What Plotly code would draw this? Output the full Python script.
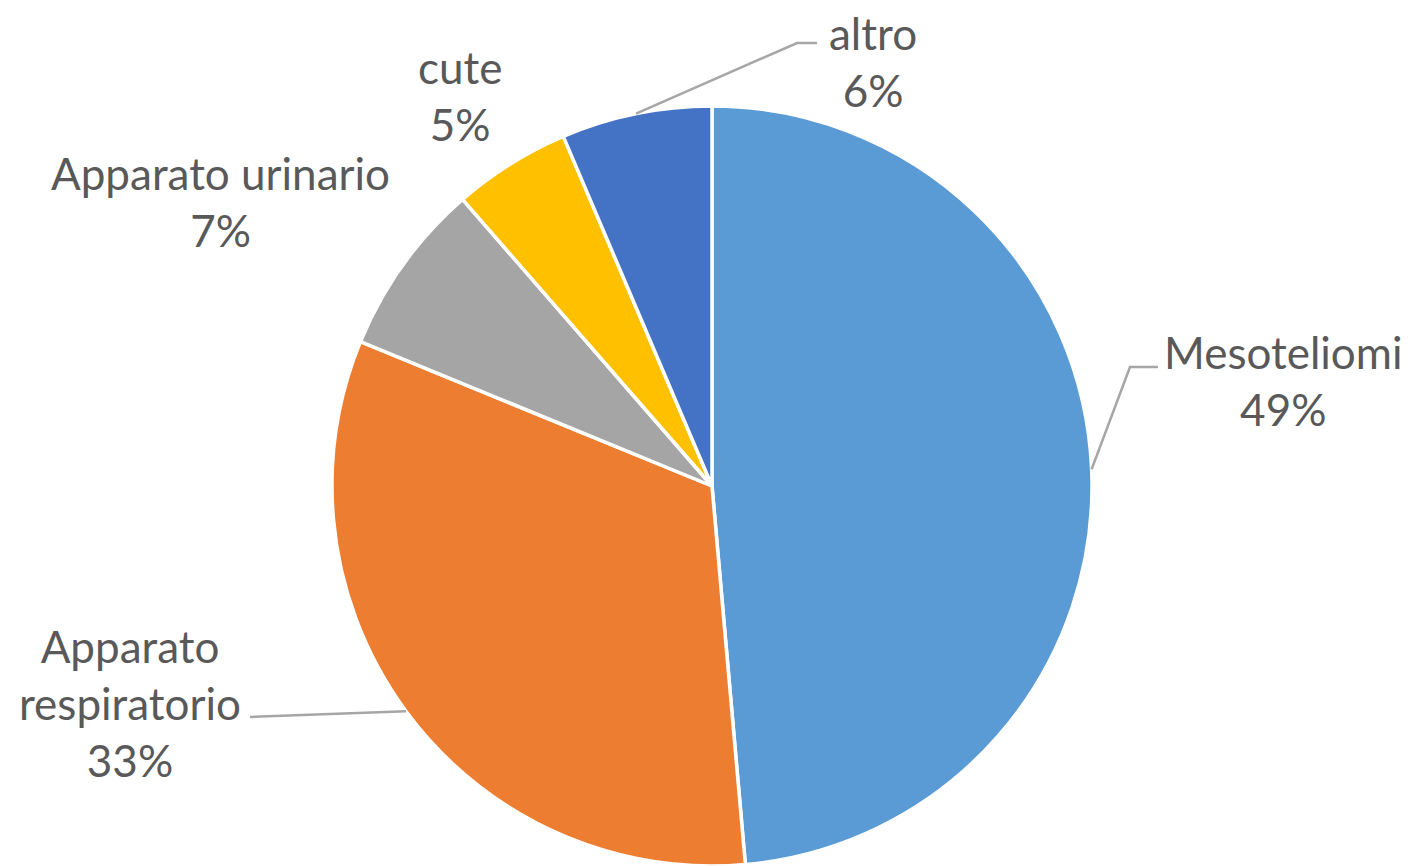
import math
import plotly.graph_objects as go

categories = ["Mesoteliomi", "Apparato respiratorio", "Apparato urinario", "cute", "altro"]
label_text = ["Mesoteliomi", "Apparato<br>respiratorio", "Apparato urinario", "cute", "altro"]
values = [48.6, 32.6, 7.4, 5.0, 6.4]
colors = ["#5B9BD5", "#ED7D31", "#A5A5A5", "#FFC000", "#4472C4"]

W, H = 1410, 866
TOP = 106
CX = 712
R = (H - TOP) / 2
CY = TOP + R

fig = go.Figure(go.Pie(
    labels=categories,
    values=values,
    sort=False,
    direction="clockwise",
    rotation=0,
    textinfo="none",
    hoverinfo="label+percent",
    marker=dict(colors=colors, line=dict(color="white", width=3.5)),
    domain=dict(x=[2 * CX / W - 1, 1.0], y=[0.0, 1 - TOP / H]),
    showlegend=False,
))

def px(x):
    return x / W

def py(y):
    return 1 - y / H

# label block centres (pixels) and leader elbow / end points
label_pos = [(1283, 381), (130, 703), (220, 201), (460, 96), (873, 61)]
leaders = {
    0: [(1130, 367), (1158, 367)],
    1: [(250, 717)],
    4: [(797, 43), (817, 43)],
}

total = sum(values)
cum = 0
annotations = []
shapes = []
for i, (cat, v) in enumerate(zip(label_text, values)):
    mid = (cum + v / 2) / total * 2 * math.pi
    cum += v
    pct = round(v / total * 100)
    lx, ly = label_pos[i]
    annotations.append(dict(
        x=px(lx), y=py(ly), xref="paper", yref="paper",
        text=f"{cat}<br>{pct}%", showarrow=False,
        xanchor="center", yanchor="middle", align="center",
        font=dict(family="Lato, Carlito, Calibri, sans-serif", size=44, color="#595959"),
    ))
    if i in leaders:
        sx = CX + R * math.sin(mid)
        sy = CY - R * math.cos(mid)
        pts = [(sx, sy)] + leaders[i]
        path = "M " + " L ".join(f"{px(a):.5f},{py(b):.5f}" for a, b in pts)
        shapes.append(dict(type="path", xref="paper", yref="paper", path=path,
                           line=dict(color="#A6A6A6", width=2.5)))

fig.update_layout(
    width=W, height=H,
    margin=dict(l=0, r=0, t=0, b=0),
    paper_bgcolor="white",
    plot_bgcolor="white",
    annotations=annotations,
    shapes=shapes,
)

fig.write_html(
    "out.html",
    config={"displayModeBar": False},
    post_script="document.body.style.margin='0';document.body.style.overflow='hidden';",
)
